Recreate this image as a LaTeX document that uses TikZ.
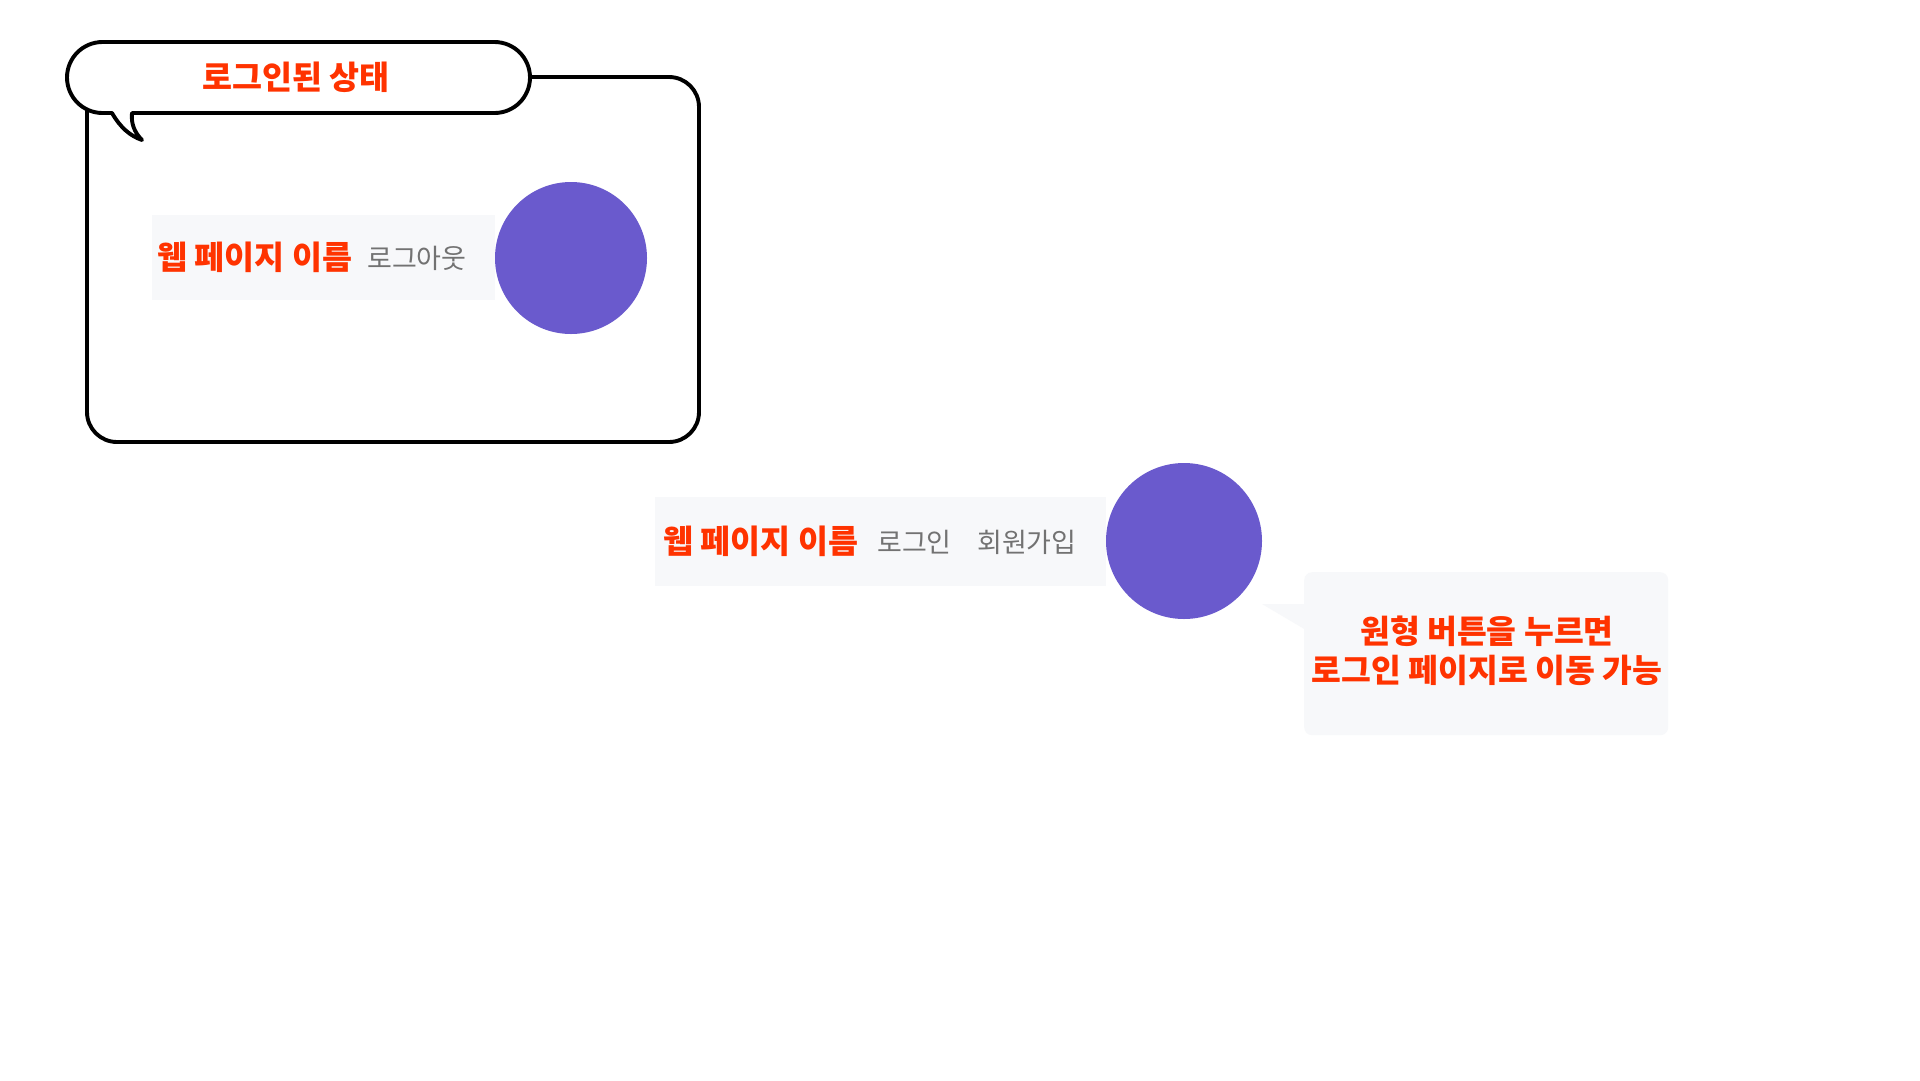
\documentclass[tikz,border=0pt]{standalone}
\usepackage{fontspec}
\newfontfamily\kr{Noto Sans CJK KR}
\definecolor{redtxt}{HTML}{FF3300}
\definecolor{graytxt}{HTML}{727272}
\definecolor{barbg}{HTML}{F7F8FA}
\definecolor{btn}{HTML}{6A5ACD}
\tikzset{
  frame/.style={draw=black, line width=3.9pt, line join=round},
  bar/.style={fill=barbg, draw=none, inner sep=0pt, anchor=north west},
  btncircle/.style={circle, fill=btn, draw=none, inner sep=0pt},
  redlabel/.style={text=redtxt, inner sep=0pt, anchor=west, font=\kr\bfseries\fontsize{32.6}{38}\selectfont},
  graylabel/.style={text=graytxt, inner sep=0pt, anchor=west, font=\kr\fontsize{27}{30}\selectfont},
  titlelabel/.style={text=redtxt, inner sep=0pt, font=\kr\bfseries\fontsize{32.6}{38}\selectfont},
  calloutlabel/.style={text=redtxt, inner sep=0pt, align=center, font=\kr\bfseries\fontsize{32.4}{39}\selectfont},
}
\begin{document}
\begin{tikzpicture}[x=1pt, y=-1pt]
\useasboundingbox (0,0) rectangle (1920,1080);
\fill[white] (0,0) rectangle (1920,1080);

% ---- logged-in state frame ----
\draw[frame, rounded corners=30pt] (87,77) rectangle (699,442);
\coordinate (tailA) at (112,113);
\coordinate (tailB) at (132,113);
\coordinate (tailTip) at (142,140);
\draw[frame, fill=white] (tailB) -- (494.5,113)
  arc[start angle=90, end angle=-90, radius=35.5] -- (102.5,42)
  arc[start angle=-90, end angle=-270, radius=35.5] -- (tailA)
  .. controls (120,127) and (130,136) .. (tailTip)
  .. controls (134,132) and (131,123) .. (tailB) -- cycle;
\node[titlelabel] (title) at (296,77) {로그인된 상태};

\node[bar, minimum width=343pt, minimum height=85pt] (bar1) at (152,215) {};
\node[btncircle, minimum size=152pt] (btn1) at (571,258) {};
\node[redlabel] (name1) at (157,257) {웹 페이지 이름};
\node[graylabel] (logout) at (367,258) {로그아웃};

% ---- logged-out header ----
\node[bar, minimum width=451pt, minimum height=89pt] (bar2) at (655,497) {};
\node[btncircle, minimum size=156pt] (btn2) at (1184,541) {};
\node[redlabel] (name2) at (663,541) {웹 페이지 이름};
\node[graylabel] (login) at (877,542) {로그인};
\node[graylabel] (signup) at (977,542) {회원가입};

% ---- callout ----
\node[fill=barbg, draw=none, rounded corners=8pt, minimum width=364pt, minimum height=163pt, anchor=north west, inner sep=0pt] (callout) at (1304,572) {};
\coordinate (ptr) at (1262,604);
\fill[barbg] (ptr) -- (1306,604) -- (1306,630) -- cycle;
\node[calloutlabel] (calltext) at (1487,651) {원형 버튼을 누르면\\로그인 페이지로 이동 가능};
\end{tikzpicture}
\end{document}
